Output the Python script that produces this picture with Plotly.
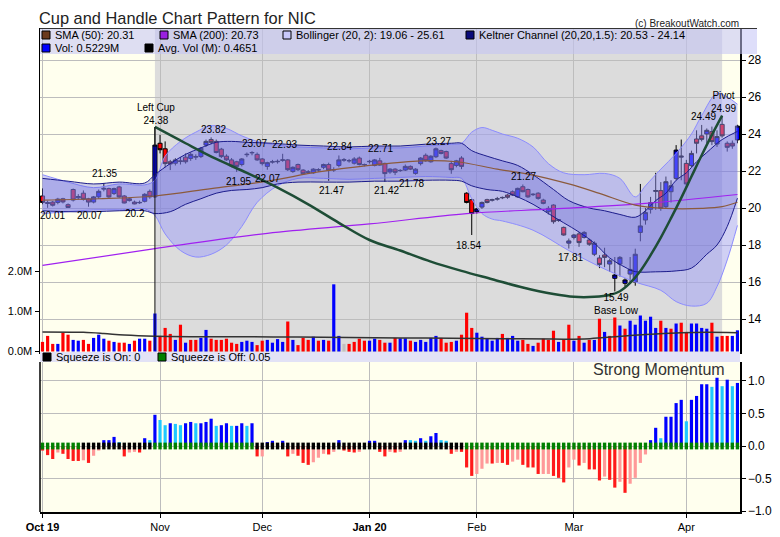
import plotly.graph_objects as go

# ---------------- data ----------------
month_ticks = [0, 23, 43, 64, 85, 104, 126]
month_labels = ["<b>Oct 19</b>", "Nov", "Dec", "<b>Jan 20</b>", "Feb", "Mar", "Apr"]

opens = [20.65,20.30,20.32,20.30,20.50,20.18,21.00,20.55,20.80,20.50,
         20.32,20.60,21.02,21.05,20.78,21.14,20.65,20.50,20.32,20.28,
         20.36,20.90,20.60,23.50,23.20,22.50,22.42,22.55,22.75,22.68,
         22.75,22.78,23.40,23.70,23.60,23.18,22.80,22.60,22.50,22.35,
         22.88,22.98,22.90,22.65,22.25,22.48,22.50,22.58,22.60,21.97,
         22.35,22.05,21.93,21.90,22.05,22.20,22.35,22.05,22.30,22.58,
         22.55,22.42,22.70,22.33,22.50,22.30,22.55,22.41,21.95,22.10,
         22.02,22.05,22.25,21.87,22.40,22.85,22.50,22.77,23.10,23.05,
         22.40,22.30,22.70,20.80,20.45,19.80,20.05,20.45,20.42,20.48,
         20.55,20.70,20.88,20.60,21.15,21.00,20.72,20.80,20.43,19.80,
         20.16,19.33,18.95,18.10,18.41,18.60,18.41,18.27,17.50,17.30,
         17.46,16.97,16.20,16.97,15.93,16.43,16.00,18.68,19.35,19.93,
         20.90,20.94,20.07,20.88,21.60,22.75,22.41,22.29,23.73,23.90,
         24.00,24.13,23.46,24.52,23.50,23.50,23.68]
highs = [21.06,20.40,20.38,20.55,20.55,20.25,21.05,20.75,20.95,20.55,
         20.65,21.00,21.35,21.10,21.10,21.20,20.70,20.55,20.40,20.40,
         20.80,21.00,24.38,23.95,23.60,22.60,22.70,22.75,22.95,23.00,
         22.90,23.30,23.70,23.82,23.70,23.25,22.90,22.70,22.55,22.70,
         23.00,23.07,23.00,22.70,22.50,22.60,22.62,22.93,22.65,22.25,
         22.40,22.10,22.05,22.15,22.15,22.40,22.45,22.20,22.84,22.70,
         22.65,22.75,22.78,22.40,22.60,22.65,22.71,22.45,22.15,22.15,
         22.10,22.35,22.30,22.15,22.75,22.95,22.85,23.27,23.15,23.10,
         22.55,22.60,22.80,20.85,20.50,20.00,20.35,20.50,20.50,20.60,
         20.62,20.75,20.95,21.10,21.27,21.05,20.80,20.85,20.50,20.10,
         20.20,19.40,19.00,18.35,18.60,18.70,18.75,18.35,18.20,17.45,
         17.85,17.25,17.35,17.40,16.20,17.35,17.80,21.30,20.00,20.60,
         21.90,21.40,21.70,21.50,23.40,23.70,22.60,23.10,24.20,24.49,
         24.30,24.40,24.20,24.99,23.60,23.65,24.50]
lows = [20.20,20.01,20.08,20.20,20.25,20.02,20.35,20.45,20.40,20.07,
        20.25,20.50,20.90,20.55,20.70,20.55,20.25,20.35,20.20,20.22,
        20.30,20.50,20.55,22.95,22.20,22.05,22.30,22.35,22.40,22.55,
        22.60,22.70,23.30,23.45,22.95,22.70,22.55,22.20,21.95,22.25,
        22.75,22.85,22.55,22.30,22.07,22.40,22.40,22.50,22.00,21.90,
        22.00,21.80,21.85,21.85,21.95,22.10,21.47,21.95,22.20,22.50,
        22.45,22.35,22.30,22.25,22.40,22.25,22.28,21.42,21.85,21.78,
        21.95,22.00,22.05,21.80,22.30,22.50,22.45,22.70,22.90,22.65,
        21.85,22.20,22.10,20.25,18.54,19.70,19.95,20.25,20.35,20.40,
        20.48,20.50,20.65,20.55,20.85,20.55,20.65,20.45,20.20,19.65,
        19.15,19.25,18.50,17.81,18.30,17.90,18.35,17.95,17.40,16.75,
        16.80,16.55,15.49,16.30,15.75,15.95,15.80,18.20,19.10,19.70,
        19.90,19.85,19.95,20.30,21.50,21.50,21.10,22.20,22.95,23.60,
        23.50,23.40,23.30,23.80,23.05,23.20,23.50]
closes = [20.30,20.25,20.15,20.48,20.33,20.03,20.43,20.62,20.47,20.32,
          20.60,20.90,21.06,20.60,21.05,20.60,20.27,20.40,20.22,20.30,
          20.74,20.60,23.40,23.15,22.40,22.38,22.60,22.52,22.50,22.90,
          22.78,23.23,23.60,23.55,23.00,22.78,22.60,22.27,22.25,22.65,
          22.90,23.00,22.60,22.40,22.45,22.50,22.52,22.60,22.07,22.20,
          22.07,21.85,21.95,22.10,22.07,22.35,22.05,22.08,22.60,22.62,
          22.56,22.65,22.35,22.35,22.52,22.60,22.32,21.86,22.10,21.93,
          22.03,22.25,22.10,22.10,22.70,22.55,22.80,23.20,22.95,22.70,
          22.07,22.55,22.25,20.30,19.70,19.95,20.30,20.30,20.45,20.50,
          20.57,20.58,20.70,21.06,20.88,20.60,20.74,20.52,20.25,19.98,
          19.26,19.36,18.54,18.22,18.54,18.13,18.68,18.04,18.10,16.95,
          17.33,17.15,16.38,17.33,16.11,16.68,17.50,19.03,19.75,20.29,
          20.94,19.98,21.42,21.20,23.13,22.80,21.30,22.95,23.50,23.71,
          24.20,23.59,23.86,23.90,23.28,23.35,24.43]

volume_m = [0.24,0.39,0.19,0.19,0.47,0.42,0.29,0.27,0.29,0.19,
            0.34,0.42,0.32,0.27,0.24,0.22,0.22,0.19,0.27,0.32,
            0.32,0.27,0.95,0.39,0.59,0.44,0.29,0.67,0.22,0.29,
            0.29,0.34,0.54,0.32,0.29,0.29,0.32,0.22,0.19,0.24,
            0.27,0.24,0.16,0.27,0.29,0.22,0.31,0.24,0.75,0.29,
            0.16,0.34,0.29,0.37,0.27,0.29,0.27,1.68,0.39,0.19,
            0.19,0.24,0.32,0.27,0.27,0.32,0.29,0.22,0.22,0.34,
            0.33,0.33,0.27,0.24,0.29,0.24,0.34,0.39,0.34,0.22,
            0.24,0.27,0.42,0.97,0.59,0.47,0.37,0.32,0.27,0.34,
            0.44,0.34,0.39,0.27,0.29,0.19,0.14,0.22,0.32,0.29,
            0.52,0.24,0.29,0.67,0.27,0.39,0.22,0.29,0.29,0.82,
            0.49,0.39,0.85,0.65,0.57,0.77,0.67,0.90,0.77,0.87,
            0.59,0.77,0.59,0.57,0.70,0.72,0.49,0.70,0.70,0.59,
            0.57,0.72,0.37,0.39,0.39,0.39,0.53]
volume_dir = ("rrrbrrbbrr" "bbbrbrrbrb" "brbrrrbrbr" "rbbrrrrrrb" "bbrrbbbbrb"
              "rrrbrbrbbg" "rrrrbbrrbr" "bbrbbbbbrr" "rbrrrbbbbb" "rbbbrrbrrr"
              "rbrrbrbrbr" "brrbrbbbbb" "brbrbrrbbb" "brbrrbb")

avg_vol_days = [0, 8, 12, 16, 22, 30, 40, 50, 60, 70, 80, 90, 100, 106, 110, 115, 120, 125, 130, 136]
avg_vol_m = [0.49, 0.48, 0.45, 0.41, 0.38, 0.37, 0.37, 0.36, 0.35, 0.34, 0.33, 0.32, 0.31, 0.31, 0.35, 0.40, 0.44, 0.47, 0.48, 0.47]

momentum = [-0.07,-0.14,-0.20,-0.10,-0.12,-0.20,-0.23,-0.23,-0.22,-0.26,
            -0.15,-0.07,0.09,0.09,0.14,0.06,-0.16,-0.10,-0.09,-0.10,
            0.12,0.09,0.48,0.40,0.32,0.35,0.34,0.32,0.35,0.37,
            0.35,0.35,0.37,0.42,0.31,0.32,0.35,0.31,0.31,0.35,
            0.31,0.35,-0.16,-0.16,0.06,0.08,0.01,0.08,-0.16,-0.12,
            -0.15,-0.26,-0.29,-0.25,-0.18,-0.12,-0.13,-0.09,0.09,-0.07,
            -0.09,-0.10,-0.09,0.00,0.08,0.08,-0.09,-0.16,-0.09,-0.10,
            -0.09,0.09,0.09,0.08,0.12,0.08,0.15,0.20,0.09,0.08,
            -0.12,-0.09,-0.09,-0.33,-0.46,-0.43,-0.35,-0.27,-0.27,-0.26,
            -0.26,-0.29,-0.24,-0.21,-0.29,-0.33,-0.33,-0.43,-0.43,-0.43,
            -0.46,-0.49,-0.56,-0.33,-0.21,-0.30,-0.26,-0.36,-0.36,-0.53,
            -0.47,-0.52,-0.64,-0.55,-0.72,-0.58,-0.49,-0.26,-0.13,0.09,
            0.28,0.12,0.45,0.45,0.66,0.71,0.38,0.71,0.77,0.95,
            0.95,0.91,1.05,0.92,1.02,0.92,0.97]
momentum_kind = ("RRRPRRRRPR" "PPBBBCRPPR" "BCBCCBCCBB" "CBBBCBBCBB" "CBRPBBBBRP"
                 "RRRPPPRPBR" "RRPBBBRRPR" "PBCCBCBBCC" "RPRRRPPPRP" "RRPPRRRRPP"
                 "RRRPPRPRRR" "PRRPRPPPPB" "BCBBBBCBBB" "BCBCBCB")
squeeze_state = ("ggggggggkk" "kkkkkkkkkkkk" "gggggggggggggggggggg"
                 "kkkkkkkkkkkkkkkkkkkkkkkkkkkkkkkkkkkkkkkkk"
                 "gggggggggggggggggggggggggggggggggggggggggggggggggggggg")

bb_up_days = [0, 5, 10, 15, 20, 22, 24, 27, 30, 33, 36, 39, 42, 46, 50, 55, 60, 65, 70, 75, 80, 82,
              84, 86, 88, 90, 93, 96, 99, 102, 106, 110, 113, 116, 118, 121, 124, 127, 129, 132, 134, 136]
bb_upper = [21.8, 21.4, 21.1, 21.3, 21.25, 21.5, 22.8, 23.6, 24.1, 24.45, 24.3, 23.9, 23.6, 23.4, 23.3, 23.25,
            23.2, 23.25, 23.25, 23.35, 23.45, 23.5, 24.1, 24.35, 24.2, 24.0, 23.77, 23.3, 22.4, 21.9, 21.8,
            21.87, 21.6, 20.6, 21.2, 22.1, 22.95, 24.0, 25.0, 26.2, 26.0, 25.61]
bb_lo_days = [0, 5, 10, 15, 20, 22, 24, 27, 30, 33, 36, 39, 42, 46, 50, 55, 60, 65, 70, 75, 80, 82,
              84, 86, 88, 90, 96, 103, 109, 116, 121, 124, 127, 130, 132, 134, 136]
bb_lower = [19.7, 19.8, 19.9, 19.9, 19.95, 19.6, 18.6, 17.7, 17.35, 17.5, 18.0, 19.0, 20.3, 21.2, 21.6, 21.6,
            21.55, 21.6, 21.65, 21.7, 21.65, 21.6, 20.5, 19.7, 19.4, 19.3, 18.8, 17.7, 16.83, 16.0, 15.55,
            14.94, 14.7, 14.85, 15.75, 17.19, 19.06]
kc_up_days = [0, 5, 10, 15, 20, 22, 25, 28, 31, 34, 37, 40, 45, 50, 55, 60, 65, 70, 75, 80, 82, 84, 87, 90,
              93, 96, 100, 103, 107, 110, 113, 116, 118, 120, 122, 124, 126, 128, 130, 133, 136]
kc_upper = [21.6, 21.45, 21.3, 21.4, 21.35, 21.8, 22.4, 22.9, 23.25, 23.55, 23.6, 23.55, 23.5, 23.4, 23.35,
            23.3, 23.35, 23.35, 23.45, 23.5, 23.5, 23.1, 22.8, 22.55, 22.3, 21.8, 21.0, 20.4, 20.0, 19.85,
            19.65, 19.5, 19.85, 20.4, 20.8, 21.5, 21.9, 22.5, 23.0, 23.7, 24.14]
kc_lo_days = [0, 5, 10, 15, 20, 22, 25, 28, 31, 34, 37, 40, 43, 46, 50, 55, 60, 65, 70, 75, 80, 82, 84, 87,
              90, 93, 96, 99, 102, 105, 108, 111, 114, 116, 120, 124, 127, 130, 132, 134, 136]
kc_lower = [19.85, 19.8, 19.8, 19.85, 19.85, 19.7, 19.8, 20.2, 20.5, 20.8, 20.95, 21.0, 21.1, 21.3, 21.4,
            21.4, 21.4, 21.45, 21.45, 21.5, 21.5, 21.45, 21.2, 21.0, 20.9, 20.6, 20.2, 19.7, 19.2, 18.7,
            18.1, 17.3, 16.8, 16.56, 16.55, 16.6, 16.75, 17.5, 18.0, 19.0, 20.53]
sma50_days = [0, 11, 22, 33, 44, 54, 64, 74, 81, 89, 96, 103, 109, 116, 122, 129, 133, 136]
sma50 = [20.43, 20.5, 20.65, 21.05, 21.45, 21.95, 22.3, 22.55, 22.5, 22.1, 21.78, 21.3, 20.79, 20.16,
         19.98, 19.98, 20.07, 20.31]
sma200_days = [0, 22, 44, 64, 83, 100, 118, 136]
sma200 = [16.9, 17.8, 18.63, 19.14, 19.7, 19.95, 20.25, 20.73]
cup_days = [22, 28, 34, 40, 46, 52, 58, 64, 70, 76, 82, 88, 94, 100, 104, 108, 111, 113, 115, 117,
            119, 121, 123, 125, 127, 129, 131, 133]
cup_line = [24.38, 23.5, 22.65, 21.9, 21.1, 20.2, 19.2, 18.27, 17.7, 17.1, 16.6, 16.15, 15.7, 15.35,
            15.2, 15.2, 15.3, 15.5, 15.95, 16.6, 17.45, 18.4, 19.45, 20.55, 21.7, 22.85, 23.95, 24.99]

left_cup_day = 22
left_cup_high = 24.38
pivot_day = 133

price_labels = [("20.01", 1.9, 19.57), ("20.07", 9.1, 19.57), ("21.35", 12.2, 21.84), ("20.2", 18.1, 19.68),
                ("Left Cup<br>24.38", 22.2, 25.08), ("23.82", 33.4, 24.27),
                ("23.07", 41.4, 23.51), ("22.93", 47.3, 23.41), ("21.95", 38.3, 21.41),
                ("22.07", 44.1, 21.57), ("22.84", 58.2, 23.30), ("22.71", 66.2, 23.24),
                ("21.47", 56.5, 20.97), ("21.42", 67.4, 20.97), ("21.78", 72.3, 21.30),
                ("23.27", 77.4, 23.62), ("18.54", 83.3, 18.0), ("21.27", 94.2, 21.68),
                ("17.81", 103.4, 17.30), ("15.49<br>Base Low", 112.4, 14.81),
                ("24.49", 129.3, 24.97), ("Pivot<br>24.99", 133.2, 25.71)]

legend_row1 = [("#6B3A1E", "SMA (50): 20.31"), ("#9A1FE0", "SMA (200): 20.73"),
               ("#C8C8FA", "Bollinger (20, 2): 19.06 - 25.61"),
               ("#0A0A7A", "Keltner Channel (20,20,1.5): 20.53 - 24.14")]
legend_row2 = [("#0000FF", "Vol: 0.5229M"), ("#000000", "Avg. Vol (M): 0.4651")]
squeeze_legend = [("#000000", "Squeeze is On: 0"), ("#008000", "Squeeze is Off: 0.05")]

# ---------------- styling ----------------
FONT = "Liberation Sans, Arial, sans-serif"
YELLOW = "#FFFFEE"
GREY = "#DCDCDC"
GRID = "#BDBDBD"
days = list(range(len(opens)))

VOL_COL = {"r": "#FF0000", "b": "#0000FF", "g": "#C0C0C0"}
MOM_COL = {"R": "#FF1A1A", "P": "#FF9999", "B": "#0000FF", "C": "#1EC8FF"}
SQ_COL = {"k": "#000000", "g": "#008000"}


def px(x):
    return (x - 40) / 700.0


def py(y):
    return (512 - y) / 484.0


fig = go.Figure()

# Bollinger band
fig.add_trace(go.Scatter(x=bb_up_days, y=bb_upper, mode="lines", xaxis="x2", yaxis="y",
                         line=dict(color="#8C8CFF", width=1, shape="spline", smoothing=1.0), hoverinfo="skip"))
fig.add_trace(go.Scatter(x=bb_lo_days, y=bb_lower, mode="lines", xaxis="x2", yaxis="y", fill="tonexty",
                         fillcolor="rgba(150,150,250,0.45)",
                         line=dict(color="#8C8CFF", width=1, shape="spline", smoothing=1.0), hoverinfo="skip"))
# Keltner channel
fig.add_trace(go.Scatter(x=kc_up_days, y=kc_upper, mode="lines", xaxis="x2", yaxis="y",
                         line=dict(color="#1C1C8C", width=1, shape="spline", smoothing=1.0), hoverinfo="skip"))
fig.add_trace(go.Scatter(x=kc_lo_days, y=kc_lower, mode="lines", xaxis="x2", yaxis="y", fill="tonexty",
                         fillcolor="rgba(90,90,210,0.30)",
                         line=dict(color="#1C1C8C", width=1, shape="spline", smoothing=1.0), hoverinfo="skip"))
# moving averages
fig.add_trace(go.Scatter(x=sma200_days, y=sma200, mode="lines", xaxis="x2", yaxis="y",
                         line=dict(color="#A020F0", width=1.2, shape="spline"), hoverinfo="skip"))
fig.add_trace(go.Scatter(x=sma50_days, y=sma50, mode="lines", xaxis="x2", yaxis="y",
                         line=dict(color="#8B5A3C", width=1.2, shape="spline"), hoverinfo="skip"))
# cup
fig.add_trace(go.Scatter(x=cup_days, y=cup_line, mode="lines", xaxis="x2", yaxis="y",
                         line=dict(color="#1E4D36", width=2.5, shape="spline", smoothing=1.0), hoverinfo="skip"))
# candles
fig.add_trace(go.Candlestick(x=days, open=opens, high=highs, low=lows, close=closes, xaxis="x2", yaxis="y",
                             whiskerwidth=0,
                             increasing=dict(line=dict(color="black", width=1), fillcolor="#0000FF"),
                             decreasing=dict(line=dict(color="black", width=1), fillcolor="#FF0000"),
                             hoverinfo="skip"))
# volume
fig.add_trace(go.Bar(x=days, y=volume_m, xaxis="x2", yaxis="y2", width=0.62,
                     marker=dict(color=[VOL_COL[c] for c in volume_dir], line=dict(width=0)), hoverinfo="skip"))
fig.add_trace(go.Scatter(x=avg_vol_days, y=avg_vol_m, mode="lines", xaxis="x2", yaxis="y2",
                         line=dict(color="#333333", width=1.5, shape="spline"), hoverinfo="skip"))
# momentum histogram + squeeze dots
fig.add_trace(go.Bar(x=days, y=momentum, xaxis="x", yaxis="y3", width=0.62,
                     marker=dict(color=[MOM_COL[c] for c in momentum_kind], line=dict(width=0)), hoverinfo="skip"))
SQ_H = 0.104
fig.add_trace(go.Bar(x=days, y=[SQ_H] * len(days), base=-SQ_H / 2, xaxis="x", yaxis="y3", width=0.66,
                     marker=dict(color=[SQ_COL[c] for c in squeeze_state], line=dict(width=0)), hoverinfo="skip"))

shapes = []
# pattern region (grey) on price panel
shapes.append(dict(type="rect", xref="x2", yref="y domain", x0=left_cup_day, x1=pivot_day, y0=0, y1=1,
                   fillcolor=GREY, line=dict(width=0), layer="below"))
# left-cup marker line
shapes.append(dict(type="line", xref="x2", yref="y", x0=left_cup_day, x1=left_cup_day, y0=left_cup_high,
                   y1=12.3, line=dict(color="#111111", width=1), layer="above"))
# legend box at top
shapes.append(dict(type="rect", xref="paper", yref="paper", x0=px(40), x1=px(757), y0=py(54), y1=py(28),
                   fillcolor="rgba(195,195,245,0.55)", line=dict(width=0), layer="above"))
shapes.append(dict(type="line", xref="paper", yref="paper", x0=px(40), x1=px(757), y0=py(28.5), y1=py(28.5),
                   line=dict(color="#333333", width=1)))
# squeeze legend band
shapes.append(dict(type="rect", xref="paper", yref="paper", x0=px(40), x1=px(740), y0=py(362), y1=py(352),
                   fillcolor="#E2E2F6", line=dict(width=0), layer="above"))
# left axis line of lower panel
shapes.append(dict(type="line", xref="paper", yref="paper", x0=0, x1=0, y0=0, y1=py(362),
                   line=dict(color="black", width=1.5)))

annotations = []
for text, d, p in price_labels:
    annotations.append(dict(text=text, x=d, y=p, xref="x2", yref="y", showarrow=False,
                            font=dict(family=FONT, size=10, color="black"), xanchor="center", yanchor="middle"))


def legend_items(items, xs, y):
    for (col, text), x in zip(items, xs):
        shapes.append(dict(type="rect", xref="paper", yref="paper", x0=px(x), x1=px(x + 8),
                           y0=py(y + 4), y1=py(y - 4), fillcolor=col, line=dict(color="black", width=1),
                           layer="above"))
        annotations.append(dict(text=text, x=px(x + 11), y=py(y), xref="paper", yref="paper", showarrow=False,
                                xanchor="left", yanchor="middle",
                                font=dict(family=FONT, size=11, color="black")))


legend_items(legend_row1, [42, 160, 283, 466], 35)
legend_items(legend_row2, [42, 145], 48)
legend_items(squeeze_legend, [43, 158], 357)

annotations.append(dict(text="Cup and Handle Chart Pattern for NIC", x=px(37), y=py(18), xref="paper",
                        yref="paper", showarrow=False, xanchor="left", yanchor="middle",
                        font=dict(family=FONT, size=16.4, color="#222222")))
annotations.append(dict(text="(c) BreakoutWatch.com", x=px(741), y=py(23), xref="paper", yref="paper",
                        showarrow=False, xanchor="right", yanchor="middle",
                        font=dict(family=FONT, size=10, color="#222222")))
annotations.append(dict(text="Strong Momentum", x=px(727), y=py(369), xref="paper", yref="paper",
                        showarrow=False, xanchor="right", yanchor="middle",
                        font=dict(family=FONT, size=16, color="#333333")))

XR = [-0.49, 136.5]
fig.update_layout(
    width=780, height=537, margin=dict(l=40, r=40, t=28, b=25, autoexpand=False),
    paper_bgcolor="white", plot_bgcolor=YELLOW, showlegend=False, barmode="overlay",
    boxgap=0.2, boxgroupgap=0,
    hovermode=False, shapes=shapes, annotations=annotations,
    xaxis=dict(domain=[0, 1], anchor="y3", range=XR, tickvals=month_ticks, ticktext=month_labels,
               showgrid=True, gridcolor=GRID, gridwidth=1, ticks="outside", ticklen=4, tickcolor="black",
               showline=True, linecolor="black", linewidth=2, zeroline=False, automargin=False,
               tickfont=dict(family=FONT, size=11, color="black")),
    xaxis2=dict(domain=[0, 1], anchor="y", range=XR, tickvals=month_ticks, showticklabels=False,
                showgrid=True, gridcolor=GRID, gridwidth=1, ticks="", showline=True, linecolor="black",
                linewidth=2, zeroline=False, rangeslider=dict(visible=False), matches="x", automargin=False),
    yaxis=dict(domain=[py(352), 1], anchor="x2", side="right", range=[12.216, 29.73],
               tickvals=[14, 16, 18, 20, 22, 24, 26, 28], showgrid=True, gridcolor=GRID, gridwidth=1,
               ticks="outside", ticklen=4, tickcolor="black", showline=True, linecolor="black", linewidth=1.5,
               zeroline=False, automargin=False, tickfont=dict(family=FONT, size=12, color="black")),
    yaxis2=dict(overlaying="y", anchor="x2", side="left", range=[-0.0125, 8.09], tickvals=[0, 1, 2],
                ticktext=["0.0M", "1.0M", "2.0M"], showgrid=False, ticks="outside", ticklen=4,
                tickcolor="black", showline=True, linecolor="black", linewidth=1.5, zeroline=False,
                automargin=False, tickfont=dict(family=FONT, size=11, color="black")),
    yaxis3=dict(domain=[0, py(362)], anchor="x", side="right", range=[-1.015, 1.292],
                tickvals=[-1, -0.5, 0, 0.5, 1], ticktext=["\u22121.0", "\u22120.5", "0.0", "0.5", "1.0"],
                showgrid=True, gridcolor=GRID, gridwidth=1, ticks="outside", ticklen=4, tickcolor="black",
                showline=True, linecolor="black", linewidth=1.5, zeroline=False, automargin=False,
                tickfont=dict(family=FONT, size=12, color="black")),
)

fig.write_html("out.html", config={"displayModeBar": False, "staticPlot": True},
               post_script="document.body.style.margin='0';document.body.style.overflow='hidden';")
